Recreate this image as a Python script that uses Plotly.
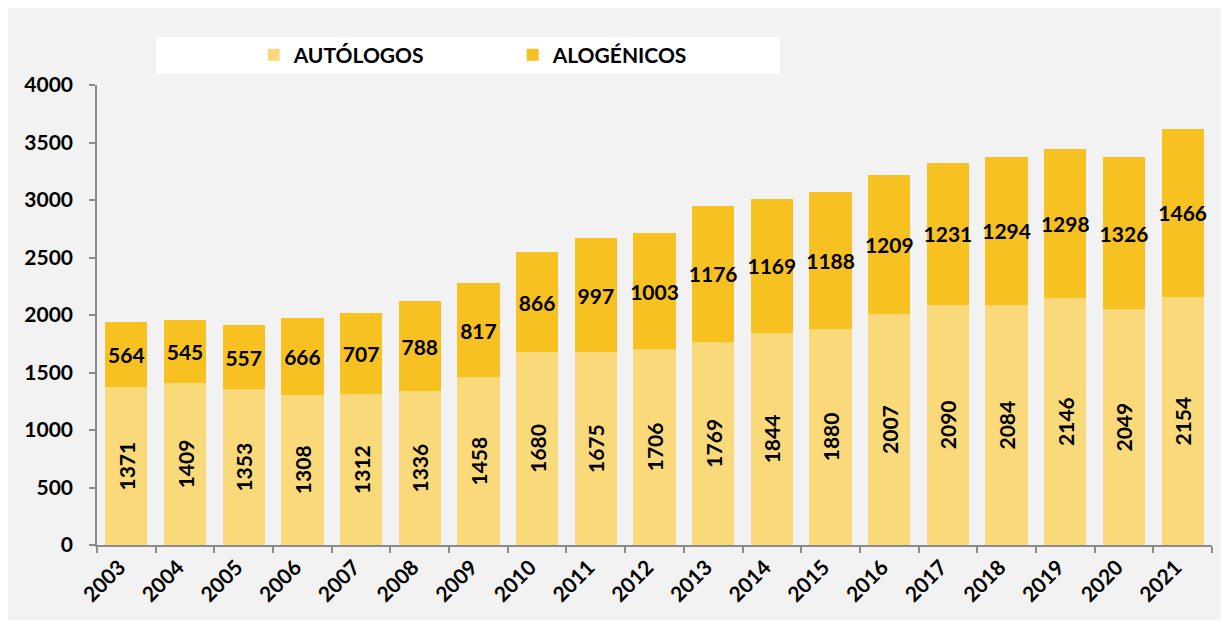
import plotly.graph_objects as go

years = [str(y) for y in range(2003, 2022)]
autologos = [1371, 1409, 1353, 1308, 1312, 1336, 1458, 1680, 1675, 1706, 1769, 1844, 1880, 2007, 2090, 2084, 2146, 2049, 2154]
alogenicos = [564, 545, 557, 666, 707, 788, 817, 866, 997, 1003, 1176, 1169, 1188, 1209, 1231, 1294, 1298, 1326, 1466]
y_ticks = [0, 500, 1000, 1500, 2000, 2500, 3000, 3500, 4000]

FONT = "Lato"
LIGHT = "#FAD97A"
DARK = "#F7C121"
BG = "#F2F2F2"

fig = go.Figure()
fig.add_trace(go.Bar(
    x=years, y=autologos, name="AUTÓLOGOS",
    marker=dict(color=LIGHT, line=dict(width=0)),
    text=[str(v) for v in autologos], textposition="inside",
    insidetextanchor="middle", textangle=-90, constraintext="none",
    textfont=dict(family=FONT, size=21, color="black", weight="bold"),
))
fig.add_trace(go.Bar(
    x=years, y=alogenicos, name="ALOGÉNICOS",
    marker=dict(color=DARK, line=dict(width=0)),
    text=[str(v) for v in alogenicos], textposition="inside",
    insidetextanchor="middle", textangle=0, constraintext="none",
    textfont=dict(family=FONT, size=21, color="black", weight="bold"),
))

fig.update_layout(
    barmode="stack",
    bargap=0.28,
    width=1229, height=626,
    margin=dict(l=89, r=25, t=77, b=89, autoexpand=False),
    paper_bgcolor="white",
    plot_bgcolor=BG,
    font=dict(family=FONT, color="black"),
    showlegend=True,
    legend=dict(
        orientation="h", x=0.1405, xanchor="left", y=1.065, yanchor="middle",
        bgcolor="rgba(0,0,0,0)", font=dict(family=FONT, size=21, color="black", weight="bold"),
        itemwidth=30, entrywidth=214, traceorder="normal",
    ),
    shapes=[
        dict(type="rect", xref="paper", yref="paper", x0=-0.0816, x1=1.009, y0=-0.163, y1=1.172,
             fillcolor=BG, line=dict(width=0), layer="below"),
        dict(type="rect", xref="paper", yref="paper", x0=0.053, x1=0.6126, y0=1.024, y1=1.104,
             fillcolor="white", line=dict(width=0), layer="below"),
    ],
)
fig.update_xaxes(
    type="category", showgrid=False, showline=True, linecolor="#8C8C8C", linewidth=1.5,
    ticks="outside", tickson="boundaries", ticklen=6, tickcolor="#8C8C8C", tickwidth=1.5,
    tickangle=-45, automargin=False, ticklabelshift=-7,
    tickfont=dict(family=FONT, size=21, color="black", weight="bold"),
)
fig.update_yaxes(
    range=[0, 4000], tickvals=y_ticks, ticktext=[str(v) for v in y_ticks],
    showgrid=False, showline=True, linecolor="#8C8C8C", linewidth=1.5, automargin=False,
    ticks="outside", ticklen=6, tickcolor="#8C8C8C", tickwidth=1.5, zeroline=False,
    ticklabelstandoff=12,
    tickfont=dict(family=FONT, size=21, color="black", weight="bold"),
)

fig.write_html("out.html")
